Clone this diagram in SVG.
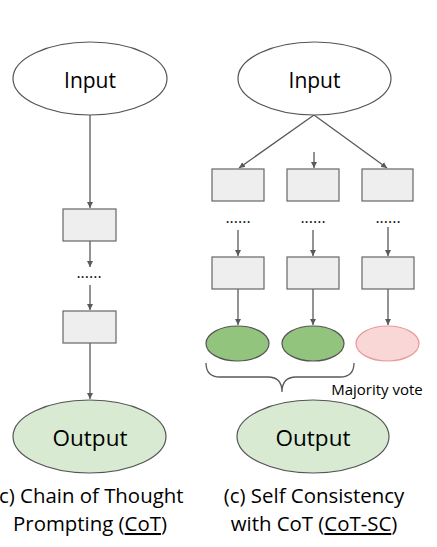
<svg xmlns="http://www.w3.org/2000/svg" width="437" height="547" viewBox="0 0 437 547">
<style>
text{font-family:"Open Sans","Noto Sans","DejaVu Sans",sans-serif;fill:#000}
.lbl{font-size:21px;text-anchor:middle}
.big{font-size:22.5px;text-anchor:middle}
.cap{font-size:20.4px;text-anchor:middle}
.dots{font-size:16px;text-anchor:middle;fill:#111}
.ell{fill:#fff;stroke:#555;stroke-width:1.2}
.out{fill:#d9ead3;stroke:#555;stroke-width:1.2}
.box{fill:#eeeeee;stroke:#666;stroke-width:1.2}
.ok{fill:#93c47d;stroke:#555;stroke-width:1.2}
.bad{fill:#f8d7d6;stroke:#ea9999;stroke-width:1.2}
.con{stroke:#595959;stroke-width:1.3;fill:none}
</style>
<defs>
<marker id="ah" viewBox="0 0 10 10" refX="10" refY="5" markerWidth="6" markerHeight="6" orient="auto" markerUnits="userSpaceOnUse">
<path d="M0,0 L10,5 L0,10 z" fill="#595959"/>
</marker>
</defs>
<rect width="437" height="547" fill="#fff"/>
<g id="connectors">
<line class="con" x1="90" y1="115" x2="90" y2="208" marker-end="url(#ah)"/>
<line class="con" x1="90" y1="241" x2="90" y2="267" marker-end="url(#ah)"/>
<line class="con" x1="90" y1="285" x2="90" y2="310" marker-end="url(#ah)"/>
<line class="con" x1="90" y1="343" x2="90" y2="399" marker-end="url(#ah)"/>
<line class="con" x1="314" y1="115" x2="239" y2="168" marker-end="url(#ah)"/>
<line class="con" x1="314" y1="152" x2="314" y2="168" marker-end="url(#ah)"/>
<line class="con" x1="314" y1="115" x2="387" y2="168" marker-end="url(#ah)"/>
<line class="con" x1="238" y1="230" x2="238" y2="256" marker-end="url(#ah)"/>
<line class="con" x1="313" y1="230" x2="313" y2="256" marker-end="url(#ah)"/>
<line class="con" x1="388" y1="227" x2="388" y2="256" marker-end="url(#ah)"/>
<line class="con" x1="238" y1="289" x2="238" y2="325" marker-end="url(#ah)"/>
<line class="con" x1="313" y1="289" x2="313" y2="325" marker-end="url(#ah)"/>
<line class="con" x1="388" y1="289" x2="388" y2="325" marker-end="url(#ah)"/>
<path class="con" d="M206,363 Q206,377 220,377 L268,377 Q282,377 282,392 Q282,377 296,377 L340,377 Q354,377 354,363"/>
</g>
<g id="cot-input"><ellipse class="ell" cx="90" cy="78.5" rx="77" ry="36.5"/><text class="lbl" x="90" y="88">Input</text></g>
<g id="cot-step1"><rect class="box" x="63" y="209" width="53" height="32"/></g>
<g id="cot-dots"><text class="dots" x="89" y="278">......</text></g>
<g id="cot-step2"><rect class="box" x="63" y="311" width="53" height="32"/></g>
<g id="cot-output"><ellipse class="out" cx="89.5" cy="436.5" rx="76.5" ry="36.5"/><text class="big" x="90" y="446">Output</text></g>
<g id="cot-caption"><text class="cap" x="-1" y="503" style="text-anchor:start">c) Chain of Thought</text><text class="cap" x="90" y="531">Prompting (<tspan text-decoration="underline">CoT</tspan>)</text></g>
<g id="sc-input"><ellipse class="ell" cx="314.5" cy="78.5" rx="76.5" ry="36.5"/><text class="lbl" x="314.5" y="88">Input</text></g>
<g id="sc-a1"><rect class="box" x="212" y="169" width="52" height="32"/></g>
<g id="sc-b1"><rect class="box" x="287" y="169" width="52" height="32"/></g>
<g id="sc-c1"><rect class="box" x="362" y="169" width="51" height="32"/></g>
<g id="sc-dots"><text class="dots" x="238" y="223">......</text><text class="dots" x="313" y="223">......</text><text class="dots" x="388" y="223">......</text></g>
<g id="sc-a2"><rect class="box" x="212" y="257" width="52" height="32"/></g>
<g id="sc-b2"><rect class="box" x="287" y="257" width="52" height="32"/></g>
<g id="sc-c2"><rect class="box" x="362" y="257" width="52" height="32"/></g>
<g id="sc-ans1"><ellipse class="ok" cx="237.5" cy="343.5" rx="31.5" ry="17.5"/></g>
<g id="sc-ans2"><ellipse class="ok" cx="313" cy="343.5" rx="31" ry="17.5"/></g>
<g id="sc-ans3"><ellipse class="bad" cx="387.5" cy="343.5" rx="31.5" ry="17.5"/></g>
<g id="sc-vote"><text x="377" y="395" style="font-size:15px;text-anchor:middle">Majority vote</text></g>
<g id="sc-output"><ellipse class="out" cx="313" cy="436.5" rx="76" ry="36.5"/><text class="big" x="313" y="446">Output</text></g>
<g id="sc-caption"><text class="cap" x="314" y="503">(c) Self Consistency</text><text class="cap" x="314" y="531">with CoT (<tspan text-decoration="underline">CoT-SC</tspan>)</text></g>
</svg>
